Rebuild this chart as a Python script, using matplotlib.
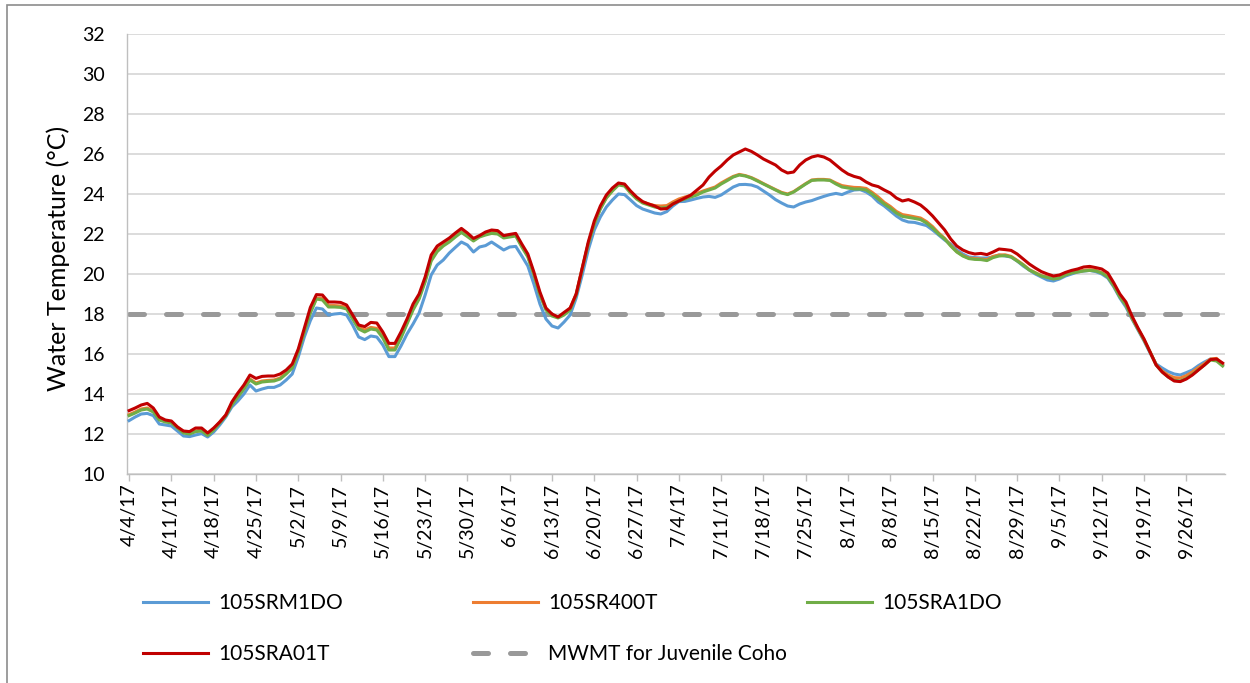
import numpy as np
import pandas as pd
import matplotlib
matplotlib.use("Agg")
import matplotlib.pyplot as plt
from matplotlib.patches import Rectangle

plt.rcParams['font.family'] = ['Lato', 'DejaVu Sans']

# --- DATA: daily mean water temperature (deg C), 4/4/17 - 10/2/17 ---
START_DATE = '2017-04-04'
MWMT_COHO = 18.0

# 105SRM1DO
srm1do = [
    12.67, 12.85, 13.00, 13.03, 12.92, 12.50, 12.45,
    12.40, 12.15, 11.90, 11.87, 11.95, 12.02, 11.85,
    12.10, 12.45, 12.85, 13.35, 13.65, 14.00, 14.45,
    14.15, 14.25, 14.33, 14.33, 14.45, 14.70, 15.00,
    15.85, 16.85, 17.67, 18.30, 18.25, 17.95, 18.00,
    18.03, 17.95, 17.45, 16.85, 16.72, 16.90, 16.85,
    16.45, 15.87, 15.87, 16.40, 17.00, 17.50, 18.05,
    18.95, 19.95, 20.45, 20.70, 21.05, 21.33, 21.60,
    21.45, 21.10, 21.35, 21.42, 21.60, 21.40, 21.20,
    21.35, 21.38, 20.90, 20.40, 19.50, 18.50, 17.75,
    17.40, 17.30, 17.60, 17.95, 18.80, 19.95, 21.20,
    22.20, 22.85, 23.35, 23.70, 24.00, 23.97, 23.70,
    23.42, 23.25, 23.15, 23.05, 23.00, 23.12, 23.40,
    23.62, 23.63, 23.70, 23.78, 23.85, 23.88, 23.83,
    23.95, 24.15, 24.35, 24.47, 24.48, 24.45, 24.35,
    24.15, 23.95, 23.72, 23.55, 23.40, 23.35, 23.50,
    23.60, 23.67, 23.78, 23.88, 23.97, 24.03, 23.97,
    24.10, 24.20, 24.22, 24.10, 23.90, 23.60, 23.40,
    23.15, 22.90, 22.70, 22.60, 22.58, 22.50, 22.42,
    22.20, 21.95, 21.70, 21.50, 21.20, 21.00, 20.85,
    20.82, 20.80, 20.80, 20.85, 20.95, 20.90, 20.85,
    20.65, 20.40, 20.20, 20.00, 19.85, 19.70, 19.65,
    19.75, 19.90, 20.00, 20.10, 20.15, 20.18, 20.12,
    20.00, 19.80, 19.35, 18.80, 18.35, 17.75, 17.20,
    16.65, 16.05, 15.50, 15.30, 15.12, 15.00, 14.95,
    15.07, 15.20, 15.42, 15.60, 15.75, 15.72, 15.45,
]

# 105SR400T
sr400t = [
    12.97, 13.10, 13.25, 13.30, 13.15, 12.75, 12.65,
    12.60, 12.35, 12.10, 12.05, 12.15, 12.20, 11.97,
    12.25, 12.60, 12.95, 13.50, 13.90, 14.30, 14.75,
    14.55, 14.65, 14.68, 14.70, 14.80, 15.05, 15.35,
    16.15, 17.15, 18.10, 18.80, 18.78, 18.42, 18.42,
    18.40, 18.32, 17.82, 17.33, 17.20, 17.33, 17.28,
    16.90, 16.30, 16.30, 16.88, 17.58, 18.28, 18.82,
    19.68, 20.72, 21.20, 21.45, 21.65, 21.90, 22.12,
    21.92, 21.70, 21.90, 22.00, 22.08, 22.05, 21.85,
    21.90, 21.95, 21.40, 20.90, 20.00, 19.00, 18.25,
    17.95, 17.85, 18.02, 18.28, 19.00, 20.28, 21.52,
    22.52, 23.28, 23.82, 24.20, 24.50, 24.45, 24.10,
    23.80, 23.60, 23.50, 23.42, 23.40, 23.42, 23.60,
    23.75, 23.85, 23.93, 24.03, 24.15, 24.25, 24.35,
    24.55, 24.72, 24.88, 24.98, 24.92, 24.82, 24.68,
    24.52, 24.37, 24.22, 24.08, 24.00, 24.12, 24.32,
    24.52, 24.70, 24.73, 24.73, 24.70, 24.55, 24.42,
    24.37, 24.33, 24.32, 24.28, 24.08, 23.85, 23.58,
    23.38, 23.13, 22.97, 22.92, 22.86, 22.80, 22.62,
    22.37, 22.05, 21.78, 21.43, 21.12, 20.92, 20.80,
    20.77, 20.75, 20.72, 20.88, 20.95, 20.96, 20.88,
    20.68, 20.47, 20.22, 20.07, 19.92, 19.85, 19.77,
    19.82, 19.97, 20.07, 20.12, 20.18, 20.22, 20.18,
    20.07, 19.88, 19.42, 18.88, 18.45, 17.80, 17.25,
    16.70, 16.10, 15.47, 15.15, 14.95, 14.82, 14.80,
    14.92, 15.10, 15.32, 15.52, 15.75, 15.78, 15.50,
]

# 105SRA1DO
sra1do = [
    12.92, 13.05, 13.20, 13.25, 13.10, 12.70, 12.60,
    12.55, 12.30, 12.05, 12.00, 12.12, 12.15, 11.93,
    12.20, 12.55, 12.90, 13.45, 13.85, 14.25, 14.70,
    14.50, 14.60, 14.63, 14.65, 14.75, 15.00, 15.30,
    16.10, 17.10, 18.05, 18.75, 18.70, 18.35, 18.35,
    18.33, 18.25, 17.75, 17.25, 17.10, 17.25, 17.20,
    16.80, 16.20, 16.20, 16.80, 17.50, 18.20, 18.75,
    19.60, 20.65, 21.12, 21.40, 21.60, 21.85, 22.08,
    21.87, 21.65, 21.85, 21.95, 22.03, 22.00, 21.80,
    21.85, 21.90, 21.35, 20.85, 19.95, 18.95, 18.20,
    17.90, 17.80, 17.95, 18.20, 18.95, 20.25, 21.50,
    22.50, 23.25, 23.80, 24.15, 24.45, 24.40, 24.05,
    23.75, 23.55, 23.45, 23.35, 23.30, 23.33, 23.50,
    23.65, 23.75, 23.85, 23.95, 24.10, 24.20, 24.30,
    24.50, 24.67, 24.85, 24.95, 24.90, 24.80, 24.65,
    24.50, 24.35, 24.20, 24.05, 23.97, 24.10, 24.30,
    24.50, 24.68, 24.70, 24.70, 24.68, 24.50, 24.35,
    24.30, 24.25, 24.25, 24.20, 24.00, 23.75, 23.50,
    23.30, 23.05, 22.88, 22.83, 22.78, 22.72, 22.55,
    22.30, 22.00, 21.75, 21.40, 21.10, 20.90, 20.77,
    20.73, 20.72, 20.67, 20.82, 20.90, 20.92, 20.85,
    20.65, 20.45, 20.20, 20.05, 19.90, 19.83, 19.75,
    19.80, 19.95, 20.05, 20.10, 20.15, 20.18, 20.15,
    20.05, 19.85, 19.40, 18.85, 18.45, 17.80, 17.25,
    16.70, 16.10, 15.45, 15.10, 14.85, 14.68, 14.65,
    14.78, 14.98, 15.22, 15.45, 15.70, 15.65, 15.40,
]

# 105SRA01T
sra01t = [
    13.17, 13.30, 13.45, 13.53, 13.30, 12.85, 12.70,
    12.65, 12.35, 12.15, 12.12, 12.30, 12.30, 12.05,
    12.30, 12.60, 12.95, 13.60, 14.05, 14.45, 14.95,
    14.78, 14.88, 14.90, 14.90, 15.00, 15.20, 15.50,
    16.25, 17.30, 18.33, 18.97, 18.95, 18.60, 18.60,
    18.58, 18.45, 17.95, 17.45, 17.37, 17.58, 17.55,
    17.10, 16.53, 16.53, 17.10, 17.75, 18.50, 19.00,
    19.85, 20.95, 21.40, 21.60, 21.80, 22.05, 22.28,
    22.05, 21.78, 21.92, 22.10, 22.20, 22.17, 21.92,
    21.98, 22.03, 21.50, 21.00, 20.10, 19.10, 18.30,
    18.00, 17.85, 18.08, 18.30, 19.00, 20.30, 21.60,
    22.65, 23.40, 23.95, 24.30, 24.55, 24.50, 24.15,
    23.85, 23.62, 23.50, 23.40, 23.25, 23.27, 23.50,
    23.65, 23.80, 23.95, 24.20, 24.45, 24.85, 25.15,
    25.40, 25.70, 25.95, 26.10, 26.25, 26.13, 25.95,
    25.75, 25.60, 25.45, 25.20, 25.05, 25.10, 25.45,
    25.70, 25.85, 25.92, 25.85, 25.70, 25.45, 25.20,
    25.00, 24.88, 24.80, 24.60, 24.45, 24.37, 24.20,
    24.05, 23.80, 23.65, 23.72, 23.60, 23.45, 23.20,
    22.90, 22.55, 22.20, 21.75, 21.40, 21.20, 21.07,
    21.00, 21.03, 20.97, 21.10, 21.25, 21.22, 21.18,
    21.00, 20.75, 20.50, 20.30, 20.12, 20.00, 19.90,
    19.95, 20.08, 20.18, 20.25, 20.35, 20.38, 20.32,
    20.25, 20.05, 19.55, 19.00, 18.60, 17.90, 17.30,
    16.75, 16.10, 15.45, 15.10, 14.85, 14.65, 14.62,
    14.75, 14.95, 15.20, 15.45, 15.72, 15.75, 15.55,
]

series = [
    ('105SRM1DO', srm1do, '#5B9BD5'),
    ('105SR400T', sr400t, '#ED7D31'),
    ('105SRA1DO', sra1do, '#70AD47'),
    ('105SRA01T', sra01t, '#C00000'),
]

n_days = len(sra01t)
dates = pd.date_range(START_DATE, periods=n_days, freq='D')
days = np.arange(n_days)

# --- PLOT ---
fig = plt.figure(figsize=(12.5, 6.83), dpi=100)
ax = fig.add_axes([127 / 1250, 1 - 474 / 683, 1098 / 1250, 440 / 683])

lines = {}
for name, vals, color in series:
    ln, = ax.plot(days, vals, color=color, lw=2.2, solid_joinstyle='round', zorder=3)
    lines[name] = ln

mwmt, = ax.plot(days, np.full(n_days, MWMT_COHO), color='#999999', lw=3.6,
                dashes=(3.0, 4.4), dash_capstyle='round', zorder=2)

ax.set_xlim(-0.35, n_days - 0.6)
ax.set_ylim(10, 32)
ax.set_yticks(np.arange(10, 33, 2))
ax.grid(axis='y', color='#d9d9d9', lw=1.3, zorder=0)
ax.set_axisbelow(True)

tick_days = days[::7]
ax.set_xticks(tick_days)
ax.set_xticklabels([f"{d.month}/{d.day}/{d.strftime('%y')}" for d in dates[::7]],
                   rotation=90, fontsize=14)
ax.tick_params(axis='x', length=5, width=1, color='#bfbfbf', pad=2)
ax.tick_params(axis='y', length=0, labelsize=14, pad=16)

for side in ['top', 'right']:
    ax.spines[side].set_visible(False)
for side in ['left', 'bottom']:
    ax.spines[side].set_color('#bfbfbf')
    ax.spines[side].set_linewidth(1.0)

ax.set_ylabel('Water Temperature (°C)', fontsize=18, va='center')
ax.yaxis.set_label_coords(-0.063, 0.49)

# legend laid out as three columns under the plot
leg_kw = dict(loc='upper left', frameon=False, fontsize=15, borderpad=0,
              borderaxespad=0, handlelength=3.1, handletextpad=0.5,
              labelspacing=1.5)
cols = [
    ([lines['105SRM1DO'], lines['105SRA01T']], ['105SRM1DO', '105SRA01T'], 143),
    ([lines['105SR400T'], mwmt], ['105SR400T', 'MWMT for Juvenile Coho'], 473),
    ([lines['105SRA1DO']], ['105SRA1DO'], 807),
]
for handles, labels, xpix in cols:
    fig.legend(handles, labels, bbox_to_anchor=(xpix / 1250, 1 - 593 / 683), **leg_kw)

# chart area border
fig.add_artist(Rectangle((7 / 1250, -0.1), 1.2, 1 - 5 / 683 + 0.1,
                         transform=fig.transFigure, fill=False,
                         edgecolor='#8c8c8c', lw=1.2))

fig.savefig('out.png', dpi=100)
